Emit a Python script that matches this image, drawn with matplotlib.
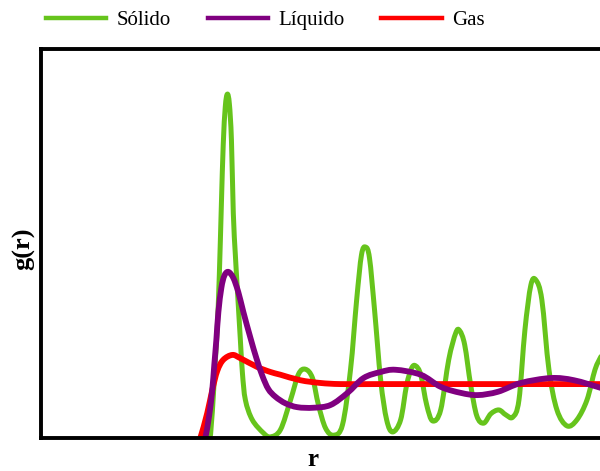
import numpy as np
import matplotlib
matplotlib.use("Agg")
import matplotlib.pyplot as plt
from matplotlib.path import Path
from matplotlib.patches import PathPatch
from matplotlib.lines import Line2D

# Radial distribution function g(r) for three phases (r in units of sigma)
labels = ["Sólido", "Líquido", "Gas"]
colors = ["#66c41c", "#800080", "#ff0000"]

solid_r = [0.855, 0.903, 0.914, 0.925, 0.935, 0.946, 0.957, 0.968, 0.978, 0.989,
           1.000, 1.011, 1.022, 1.032, 1.043, 1.054, 1.070, 1.081, 1.097, 1.134,
           1.194, 1.231, 1.285, 1.339, 1.382, 1.419, 1.457, 1.489, 1.527, 1.570,
           1.618, 1.661, 1.694, 1.720, 1.742, 1.763, 1.790, 1.823, 1.855, 1.887,
           1.930, 1.962, 1.989, 2.011, 2.038, 2.070, 2.102, 2.145, 2.188, 2.226,
           2.247, 2.274, 2.306, 2.339, 2.376, 2.414, 2.457, 2.495, 2.532, 2.565,
           2.597, 2.629, 2.656, 2.688, 2.726, 2.769, 2.823, 2.876, 2.930, 2.973,
           3.005]
solid_g = [0.00, 0.00, 0.24, 0.78, 1.38, 2.00, 2.96, 4.24, 5.33, 6.02,
           6.25, 6.07, 5.42, 4.09, 3.33, 2.69, 1.78, 1.18, 0.69, 0.33,
           0.09, 0.02, 0.15, 0.69, 1.16, 1.25, 1.09, 0.60, 0.18, 0.05,
           0.24, 1.24, 2.51, 3.33, 3.47, 3.27, 2.33, 1.05, 0.33, 0.11,
           0.33, 0.96, 1.27, 1.31, 1.15, 0.60, 0.31, 0.51, 1.42, 1.91,
           1.95, 1.69, 0.96, 0.40, 0.27, 0.44, 0.51, 0.42, 0.38, 0.69,
           1.96, 2.78, 2.87, 2.51, 1.24, 0.51, 0.22, 0.33, 0.69, 1.24,
           1.48]

liquid_r = [0.870, 0.882, 0.903, 0.919, 0.930, 0.941, 0.952, 0.968, 0.984, 1.005,
            1.032, 1.059, 1.086, 1.124, 1.156, 1.188, 1.220, 1.258, 1.312, 1.376,
            1.462, 1.554, 1.645, 1.731, 1.823, 1.903, 2.038, 2.145, 2.253, 2.344,
            2.452, 2.575, 2.737, 2.860, 3.005]
liquid_g = [-0.10, 0.00, 0.42, 0.87, 1.33, 1.78, 2.29, 2.73, 2.95, 3.02,
            2.91, 2.65, 2.29, 1.82, 1.45, 1.13, 0.89, 0.75, 0.63, 0.56,
            0.55, 0.60, 0.82, 1.09, 1.20, 1.24, 1.15, 0.93, 0.82, 0.78,
            0.84, 1.00, 1.09, 1.05, 0.91]

gas_r = [0.840, 0.855, 0.892, 0.919, 0.946, 0.978, 1.027, 1.070, 1.161, 1.231,
         1.285, 1.392, 1.500, 1.608, 1.800, 2.100, 2.400, 2.700, 3.005]
gas_g = [-0.10, 0.00, 0.45, 0.87, 1.22, 1.42, 1.51, 1.45, 1.29, 1.20,
         1.15, 1.05, 1.00, 0.98, 0.98, 0.98, 0.98, 0.98, 0.98]

series = [(solid_r, solid_g), (liquid_r, liquid_g), (gas_r, gas_g)]
widths = [3.6, 4.2, 4.2]
zorders = [2, 4, 3]


def smooth_path(xs, ys):
    """Catmull-Rom curve through the points, expressed as cubic Bezier segments."""
    p = np.column_stack([xs, ys]).astype(float)
    n = len(p)
    verts = [p[0]]
    codes = [Path.MOVETO]
    for i in range(n - 1):
        p0 = p[i - 1] if i > 0 else p[i]
        p1, p2 = p[i], p[i + 1]
        p3 = p[i + 2] if i + 2 < n else p[i + 1]
        c1 = p1 + (p2 - p0) / 6.0
        c2 = p2 - (p3 - p1) / 6.0
        verts += [c1, c2, p2]
        codes += [Path.CURVE4] * 3
    return Path(verts, codes)


plt.rcParams["font.family"] = ["Liberation Serif", "DejaVu Serif"]

fig = plt.figure(figsize=(6.0, 4.71), dpi=100)
ax = fig.add_axes([41 / 600, 33 / 471, 1 - 41 / 600, 389 / 471])

for (xs, ys), c, lw, z in zip(series, colors, widths, zorders):
    patch = PathPatch(smooth_path(xs, ys), facecolor="none", edgecolor=c,
                      lw=lw, capstyle="round", joinstyle="round", zorder=z)
    ax.add_patch(patch)

ax.set_xlim(0, 3.0)
ax.set_ylim(0, 7.07)
ax.set_xticks([])
ax.set_yticks([])
for side in ["left", "top", "bottom"]:
    ax.spines[side].set_linewidth(2.8)
    ax.spines[side].set_color("black")
    ax.spines[side].set_zorder(6)
ax.spines["right"].set_visible(False)

handles = [Line2D([], [], color=c, lw=3.2) for c in colors]
fig.legend(handles, labels, loc="center left", bbox_to_anchor=(46 / 600, 1 - 20 / 471),
           ncol=3, frameon=False, fontsize=15, handlelength=2.9, handletextpad=0.5,
           columnspacing=1.75, borderpad=0, borderaxespad=0)

fig.text(24 / 600, 1 - 249 / 471, "g(r)", rotation=90, ha="center", va="center",
         fontsize=19, fontweight="bold")
fig.text(313 / 600, 1 - 466 / 471, "r", ha="center", va="baseline",
         fontsize=18, fontweight="bold")

fig.savefig("out.png", dpi=100, facecolor="white")
